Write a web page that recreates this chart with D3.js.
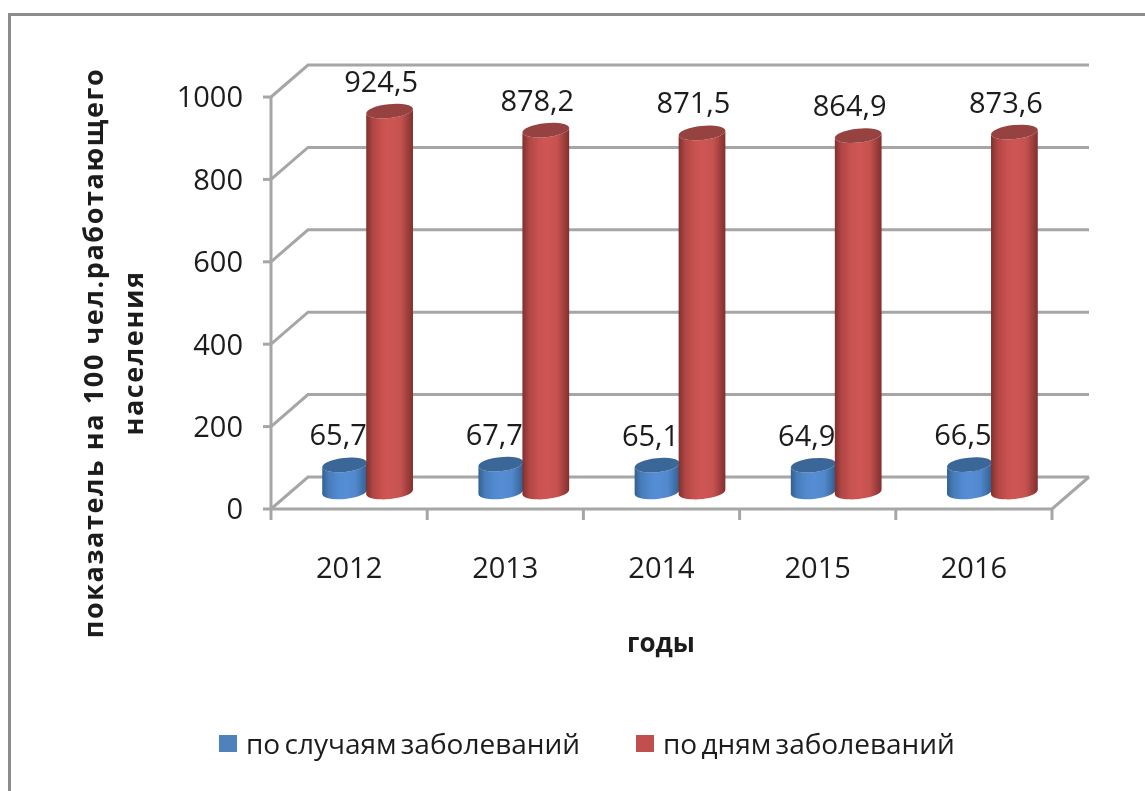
<!DOCTYPE html>
<html lang="en">
	<head>
		<meta charset="utf-8">
		<title>показатель на 100 чел.</title>
		<script src="https://d3js.org/d3.v7.min.js"></script>
		<style>
			html, body { margin: 0; padding: 0; background: #fff; overflow: hidden; }
			svg { display: block; }
			text { font-family: "Open Sans", sans-serif; fill: #1c1c1c; }
		</style>
	</head>

	<body>
		<script type="text/javascript">

			// data
			var years = ["2012", "2013", "2014", "2015", "2016"]
			var cases = [65.7, 67.7, 65.1, 64.9, 66.5]
			var days = [924.5, 878.2, 871.5, 864.9, 873.6]
			var yTicks = [0, 200, 400, 600, 800, 1000]
			var seriesNames = ["по случаям заболеваний", "по дням заболеваний"]
			var yTitle = ["показатель на 100 чел.работающего", "населения"]
			var xTitle = "годы"

			// window setup
			var w = 1145
			var h = 791

			// 3d box: front plane plus depth shift to the back wall
			var depthX = 37
			var depthY = -32
			var tilt = -6

			var x = d3.scaleBand().domain(years).range([271, 1052])
			var y = d3.scaleLinear().domain([0, 1000]).range([509, 97])

			var comma = function(v){ return d3.format(".1f")(v).replace(".", ",") }

			// create SVG
			var svg = d3.select("body")
						.append("svg")
						.attr("width", w)
						.attr("height", h)

			var defs = svg.append("defs")

			function addGradient(id, edge, mid){
				var g = defs.append("linearGradient").attr("id", id)
				g.append("stop").attr("offset", "0%").attr("stop-color", edge)
				g.append("stop").attr("offset", "14%").attr("stop-color", d3.interpolateRgb(edge, mid)(0.6))
				g.append("stop").attr("offset", "35%").attr("stop-color", d3.interpolateRgb(edge, mid)(0.92))
				g.append("stop").attr("offset", "52%").attr("stop-color", mid)
				g.append("stop").attr("offset", "75%").attr("stop-color", d3.interpolateRgb(edge, mid)(0.88))
				g.append("stop").attr("offset", "100%").attr("stop-color", edge)
			}
			addGradient("blueBody", "#33608f", "#558ed5")
			addGradient("redBody", "#7f302e", "#cf5553")

			defs.append("filter").attr("id", "soft")
				.append("feGaussianBlur").attr("stdDeviation", 0.7)
			defs.append("filter").attr("id", "softText")
				.append("feGaussianBlur").attr("stdDeviation", 0.45)

			// outer frame, runs off the right and the bottom
			svg.append("path")
				.attr("d", "M1145,14.5H9.5V791")
				.attr("fill", "none")
				.attr("stroke", "#8c8c8c")
				.attr("stroke-width", 3)

			// walls
			var grid = svg.append("g")
				.attr("fill", "none")
				.attr("stroke", "#a6a6a6")
				.attr("stroke-width", 3)
				.attr("filter", "url(#soft)")

			grid.selectAll("path.wall")
				.data(yTicks)
				.enter()
				.append("path")
				.attr("class", "wall")
				.attr("d", function(d){
					var x0 = x.range()[0]
					var x1 = x.range()[1]
					return d3.line()([[x0, y(d)], [x0 + depthX, y(d) + depthY], [x1 + depthX, y(d) + depthY]])
				})

			// floor front edge and right side
			grid.append("path")
				.attr("d", d3.line()([[x.range()[0], y(0)], [x.range()[1], y(0)], [x.range()[1] + depthX, y(0) + depthY]]))

			// value axis line and ticks
			grid.append("path")
				.attr("d", d3.line()([[x.range()[0], y(1000)], [x.range()[0], y(0)]]))

			grid.selectAll("path.ytick")
				.data(yTicks)
				.enter()
				.append("path")
				.attr("class", "ytick")
				.attr("d", function(d){
					return d3.line()([[x.range()[0] - 8, y(d)], [x.range()[0], y(d)]])
				})

			grid.selectAll("path.xtick")
				.data(years.concat("end"))
				.enter()
				.append("path")
				.attr("class", "xtick")
				.attr("d", function(d, i){
					var px = x.range()[0] + i * x.step()
					return d3.line()([[px, y(0)], [px, y(0) + 11]])
				})

			// cylinders
			function cylinder(cx, yBase, yTop, r, ry){
				var a = tilt * Math.PI / 180
				var ex = r * Math.cos(a)
				var ey = r * Math.sin(a)
				return "M" + (cx - ex) + "," + (yTop - ey) +
					"L" + (cx - ex) + "," + (yBase - ey) +
					"A" + r + "," + ry + " " + tilt + " 0 0 " + (cx + ex) + "," + (yBase + ey) +
					"L" + (cx + ex) + "," + (yTop + ey) +
					"A" + r + "," + ry + " " + tilt + " 0 1 " + (cx - ex) + "," + (yTop - ey) + "Z"
			}

			var baseShift = -17 // bars stand in the middle of the floor

			function drawSeries(values, offset, r, gradient, topColor){
				var bars = svg.append("g").attr("filter", "url(#soft)")
					.selectAll("g")
					.data(values)
					.enter()
					.append("g")

				bars.append("path")
					.attr("fill", "url(#" + gradient + ")")
					.attr("d", function(d, i){
						var cx = x(years[i]) + x.bandwidth() / 2 + offset
						return cylinder(cx, y(0) + baseShift, y(d) + baseShift, r, 7)
					})

				bars.append("ellipse")
					.attr("fill", topColor)
					.attr("rx", r)
					.attr("ry", 7)
					.attr("transform", function(d, i){
						var cx = x(years[i]) + x.bandwidth() / 2 + offset
						return "translate(" + cx + "," + (y(d) + baseShift) + ") rotate(" + tilt + ")"
					})
			}

			function drawLabels(values, offset){
				svg.append("g")
					.attr("filter", "url(#softText)")
					.selectAll("text")
					.data(values)
					.enter()
					.append("text")
					.attr("x", function(d, i){ return x(years[i]) + x.bandwidth() / 2 + offset })
					.attr("y", function(d){ return y(d) + baseShift - 30 })
					.attr("dy", "0.36em")
					.attr("text-anchor", "middle")
					.style("font-size", "29px")
					.text(comma)
			}

			// blue label sits under the red cylinder, so the order matters
			drawSeries(cases, -4.5, 22.5, "blueBody", "#3b6698")
			drawLabels(cases, -11)
			drawSeries(days, 40.5, 23.5, "redBody", "#964341")
			drawLabels(days, 32)

			var labels = svg.append("g").attr("filter", "url(#softText)")

			// tick labels
			labels.append("g")
				.selectAll("text")
				.data(yTicks)
				.enter()
				.append("text")
				.attr("x", 243)
				.attr("y", function(d){ return y(d) })
				.attr("dy", "0.36em")
				.attr("text-anchor", "end")
				.style("font-size", "29px")
				.text(function(d){ return d })

			labels.append("g")
				.selectAll("text")
				.data(years)
				.enter()
				.append("text")
				.attr("x", function(d){ return x(d) + x.bandwidth() / 2 })
				.attr("y", 568)
				.attr("dy", "0.36em")
				.attr("text-anchor", "middle")
				.style("font-size", "29px")
				.text(function(d){ return d })

			// axis titles
			labels.append("g")
				.selectAll("text")
				.data(yTitle)
				.enter()
				.append("text")
				.attr("transform", function(d, i){
					return "translate(" + (93 + i * 40) + ",353) rotate(-90)"
				})
				.attr("dy", "0.36em")
				.attr("text-anchor", "middle")
				.style("font-size", "27px")
				.style("font-weight", "700")
				.style("letter-spacing", "1.6px")
				.text(function(d){ return d })

			labels.append("text")
				.attr("x", 661)
				.attr("y", 643)
				.attr("dy", "0.36em")
				.attr("text-anchor", "middle")
				.style("font-size", "26px")
				.style("font-weight", "700")
				.text(xTitle)

			// legend
			var legendColor = d3.scaleOrdinal().domain(seriesNames).range(["#4f81bd", "#c0504d"])
			var legendX = d3.scaleOrdinal().domain(seriesNames).range([219, 636])

			var legend = labels.append("g")
				.selectAll("g")
				.data(seriesNames)
				.enter()
				.append("g")
				.attr("transform", function(d){ return "translate(" + legendX(d) + ",735)" })

			legend.append("rect")
				.attr("width", 18)
				.attr("height", 17)
				.attr("fill", legendColor)

			legend.append("text")
				.attr("x", 27)
				.attr("y", 9)
				.attr("dy", "0.36em")
				.style("font-size", "28px")
				.style("word-spacing", "-3px")
				.text(function(d){ return d })

		</script>
	</body>
</html>
